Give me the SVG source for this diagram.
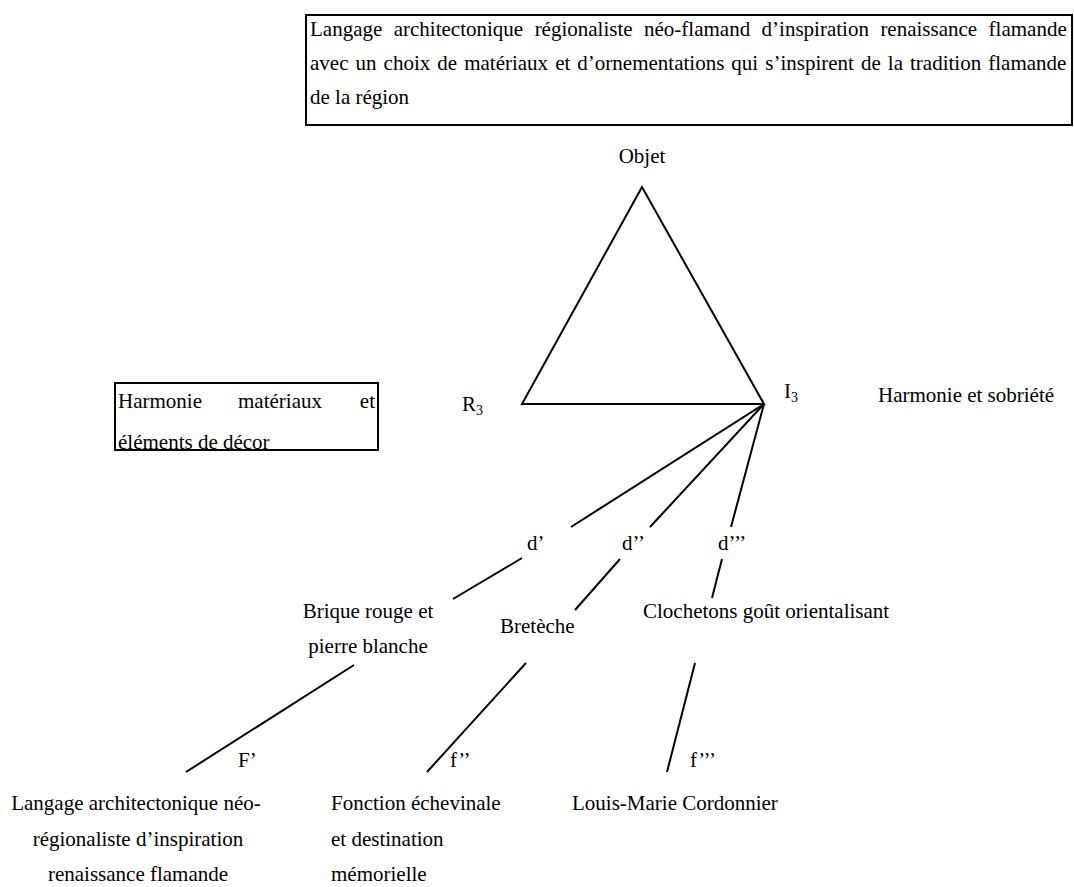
<svg xmlns="http://www.w3.org/2000/svg" width="1074" height="887" viewBox="0 0 1074 887" font-family="'Liberation Serif', 'Times New Roman', serif">
  <style>
    text { font-family: "Liberation Serif", "Times New Roman", serif; font-size: 21px; fill: #000; }
    .box { fill: none; stroke: #000; stroke-width: 2; }
    .edge { stroke: #000; stroke-width: 2; fill: none; stroke-linecap: butt; }
    .mid { text-anchor: middle; }
    .sub { font-size: 14px; }
  </style>
  <rect width="1074" height="887" fill="#fff"/>

  <!-- statement box at the top -->
  <g id="node-langage-top">
    <rect class="box" x="306" y="15" width="766" height="110"/>
    <text x="310" y="36" word-spacing="6.2">Langage architectonique régionaliste néo-flamand d’inspiration renaissance flamande</text>
    <text x="310" y="70" word-spacing="1.8">avec un choix de matériaux et d’ornementations qui s’inspirent de la tradition flamande</text>
    <text x="310" y="104">de la région</text>
  </g>

  <g id="node-objet">
    <text class="mid" x="642" y="163">Objet</text>
  </g>

  <g id="node-r3">
    <text x="462" y="411">R<tspan class="sub" dy="4">3</tspan></text>
  </g>

  <g id="node-i3">
    <text x="784" y="398">I<tspan class="sub" dy="4">3</tspan></text>
  </g>

  <g id="node-harmonie-sobriete">
    <text x="878" y="402">Harmonie et sobriété</text>
  </g>

  <g id="node-harmonie-materiaux">
    <text y="408"><tspan x="118">Harmonie</tspan><tspan x="238">matériaux</tspan><tspan x="375" text-anchor="end">et</tspan></text>
    <text x="118" y="449">éléments de décor</text>
    <rect class="box" x="115" y="383" width="263" height="67"/>
  </g>

  <g id="node-d1"><text x="527" y="550">d’</text></g>
  <g id="node-d2"><text x="622" y="550">d’’</text></g>
  <g id="node-d3"><text x="718" y="550">d’’’</text></g>

  <g id="node-brique">
    <text class="mid" x="368" y="618">Brique rouge et</text>
    <text class="mid" x="368" y="653">pierre blanche</text>
  </g>
  <g id="node-breteche">
    <text x="500" y="633">Bretèche</text>
  </g>
  <g id="node-clochetons">
    <text x="643" y="618">Clochetons goût orientalisant</text>
  </g>

  <g id="node-f1"><text x="238" y="767">F’</text></g>
  <g id="node-f2"><text x="450" y="767">f’’</text></g>
  <g id="node-f3"><text x="690" y="767">f’’’</text></g>

  <g id="node-langage-bottom">
    <text class="mid" x="136" y="810">Langage architectonique néo-</text>
    <text class="mid" x="138" y="846">régionaliste d’inspiration</text>
    <text class="mid" x="138" y="881">renaissance flamande</text>
  </g>
  <g id="node-fonction">
    <text x="331" y="810">Fonction échevinale</text>
    <text x="331" y="846">et destination</text>
    <text x="331" y="881">mémorielle</text>
  </g>
  <g id="node-cordonnier">
    <text x="572" y="810">Louis-Marie Cordonnier</text>
  </g>

  <g id="connectors">
    <!-- semiotic triangle -->
    <path class="edge" d="M642 187 L522 404 L764 404 Z" stroke-linejoin="miter"/>
    <!-- branches from I3 to the d labels -->
    <line class="edge" x1="764" y1="404" x2="571" y2="527"/>
    <line class="edge" x1="764" y1="404" x2="650" y2="527"/>
    <line class="edge" x1="764" y1="404" x2="731" y2="527"/>
    <!-- d labels to the features -->
    <line class="edge" x1="522" y1="558" x2="453" y2="599"/>
    <line class="edge" x1="620" y1="559" x2="575" y2="610"/>
    <line class="edge" x1="722" y1="559" x2="712" y2="598"/>
    <!-- features to the functions -->
    <line class="edge" x1="354" y1="665" x2="186" y2="772"/>
    <line class="edge" x1="526" y1="663" x2="427" y2="772"/>
    <line class="edge" x1="695" y1="663" x2="667" y2="772"/>
  </g>
</svg>
